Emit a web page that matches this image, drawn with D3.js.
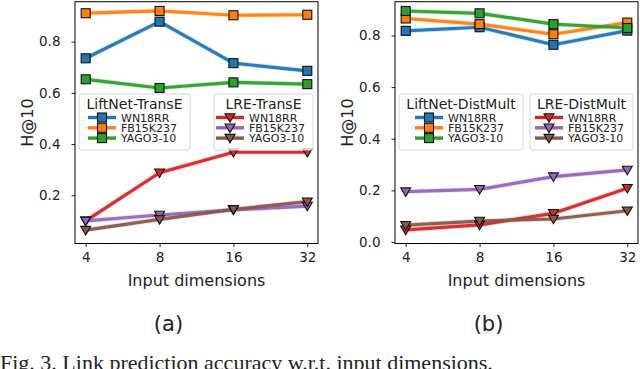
<!DOCTYPE html>
<html><head><meta charset="utf-8">
<script src="https://cdn.jsdelivr.net/npm/d3@7/dist/d3.min.js"></script>
<style>body{margin:0;background:#fff;}svg{display:block;}</style>
</head><body>
<script>
const dims = ["4", "8", "16", "32"];
const datasets = ["WN18RR", "FB15K237", "YAGO3-10"];
// Panel (a): TransE
const liftTransE = {
  "WN18RR":   [0.735, 0.878, 0.716, 0.686],
  "FB15K237": [0.911, 0.920, 0.903, 0.905],
  "YAGO3-10": [0.653, 0.619, 0.641, 0.634]
};
const lreTransE = {
  "WN18RR":   [0.100, 0.288, 0.368, 0.368],
  "FB15K237": [0.100, 0.123, 0.143, 0.158],
  "YAGO3-10": [0.064, 0.106, 0.145, 0.175]
};
// Panel (b): DistMult
const liftDistMult = {
  "WN18RR":   [0.818, 0.832, 0.764, 0.819],
  "FB15K237": [0.866, 0.844, 0.805, 0.850],
  "YAGO3-10": [0.895, 0.886, 0.844, 0.829]
};
const lreDistMult = {
  "WN18RR":   [0.047, 0.066, 0.111, 0.208],
  "FB15K237": [0.195, 0.204, 0.253, 0.279],
  "YAGO3-10": [0.065, 0.081, 0.089, 0.121]
};
const ticksA = [0.2, 0.4, 0.6, 0.8];
const ticksB = [0.0, 0.2, 0.4, 0.6, 0.8];
const liftColors = ["#1f77b4", "#ff7f0e", "#2ca02c"];
const lreColors = ["#d62728", "#9467bd", "#8c564b"];

const W = 640, H = 369;
const svg = d3.select("body").append("svg").attr("width", W).attr("height", H)
  .style("font-family", "'DejaVu Sans', sans-serif");

const plotTop = 1.7, plotBottom = 243.5;

function panel(cfg) {
  const g = svg.append("g");
  const x = d3.scalePoint().domain(dims).range([cfg.x0 + 10.7, cfg.x1 - 10.7]);
  const y = d3.scaleLinear().domain(cfg.ydom).range([plotBottom, plotTop]);

  const lineGen = d3.line().x((d, i) => x(dims[i])).y(d => y(d));
  const series = [];
  datasets.forEach((ds, i) => series.push({vals: cfg.lift[ds], color: liftColors[i], marker: "sq"}));
  datasets.forEach((ds, i) => series.push({vals: cfg.lre[ds], color: lreColors[i], marker: "tri"}));

  const plot = g.append("g");
  series.forEach(s => {
    plot.append("path").attr("d", lineGen(s.vals)).attr("fill", "none")
      .attr("stroke", s.color).attr("stroke-width", 5).attr("stroke-opacity", 0.18)
      .attr("stroke-linejoin", "round");
    plot.append("path").attr("d", lineGen(s.vals)).attr("fill", "none")
      .attr("stroke", s.color).attr("stroke-width", 3.2).attr("stroke-opacity", 0.95)
      .attr("stroke-linejoin", "round");
  });
  series.forEach(s => {
    s.vals.forEach((v, i) => drawMarker(plot, s.marker, x(dims[i]), y(v), s.color));
  });

  // axes
  const yAxis = d3.axisLeft(y).tickValues(cfg.yticks).tickFormat(d3.format(".1f")).tickSize(3.5).tickPadding(11);
  const xAxis = d3.axisBottom(x).tickSize(3.5).tickPadding(5);
  const ya = g.append("g").attr("transform", `translate(${cfg.x0},0)`).call(yAxis);
  const xa = g.append("g").attr("transform", `translate(0,${plotBottom})`).call(xAxis);
  [ya, xa].forEach(a => {
    a.select(".domain").remove();
    a.selectAll("text").attr("font-size", 13.5).attr("fill", "#222").attr("font-family", "'DejaVu Sans', sans-serif");
    a.selectAll("line").attr("stroke", "#000").attr("stroke-width", 0.9);
  });
  g.append("rect").attr("x", cfg.x0).attr("y", plotTop).attr("width", cfg.x1 - cfg.x0)
    .attr("height", plotBottom - plotTop).attr("fill", "none").attr("stroke", "#000").attr("stroke-width", 1);

  g.append("text").attr("transform", `translate(${cfg.x0 - 42},${(plotTop + plotBottom) / 2}) rotate(-90)`)
    .attr("text-anchor", "middle").attr("font-size", 16).attr("fill", "#222").text("H@10");
  g.append("text").attr("x", (cfg.x0 + cfg.x1) / 2).attr("y", 286)
    .attr("text-anchor", "middle").attr("font-size", 16).attr("fill", "#222").text("Input dimensions");
  g.append("text").attr("x", (cfg.x0 + cfg.x1) / 2 - 28).attr("y", 331)
    .attr("text-anchor", "middle").attr("font-size", 21).attr("fill", "#222").text(cfg.sub);

  legend(g, cfg.leg1, cfg.title1, liftColors, "sq");
  legend(g, cfg.leg2, cfg.title2, lreColors, "tri");
}

function drawMarker(p, type, cx, cy, color) {
  if (type === "sq") {
    p.append("rect").attr("x", cx - 4.5).attr("y", cy - 4.5).attr("width", 9).attr("height", 9)
      .attr("fill", color).attr("stroke", "#111").attr("stroke-width", 1.1);
  } else {
    const s = 5;
    p.append("path").attr("d", `M${cx - s},${cy - s * 0.75}L${cx + s},${cy - s * 0.75}L${cx},${cy + s * 0.95}Z`)
      .attr("fill", color).attr("stroke", "#111").attr("stroke-width", 1.1).attr("stroke-linejoin", "miter");
  }
}

function legend(g, L, title, colors, marker) {
  const lg = g.append("g");
  lg.append("rect").attr("x", L.x).attr("y", 94).attr("width", L.w).attr("height", 56)
    .attr("rx", 2.5).attr("fill", "#fff").attr("fill-opacity", 0.8).attr("stroke", "#d0d0d0").attr("stroke-width", 0.9);
  lg.append("text").attr("x", L.x + L.w / 2).attr("y", 109).attr("text-anchor", "middle")
    .attr("font-size", 14).attr("fill", "#222").text(title);
  datasets.forEach((ds, i) => {
    const yy = 117.5 + i * 10.3;
    lg.append("line").attr("x1", L.hx).attr("x2", L.hx + 28).attr("y1", yy).attr("y2", yy)
      .attr("stroke", colors[i]).attr("stroke-width", 3.4);
    drawMarker(lg, marker, L.hx + 14, yy, colors[i]);
    lg.append("text").attr("x", L.hx + 33).attr("y", yy + 4).attr("font-size", 11)
      .attr("fill", "#222").text(ds);
  });
}

panel({x0: 75, x1: 318, ydom: [0.0117, 0.956], yticks: ticksA, lift: liftTransE, lre: lreTransE,
  sub: "(a)", title1: "LiftNet-TransE", title2: "LRE-TransE",
  leg1: {x: 79, w: 111, hx: 88}, leg2: {x: 214, w: 99, hx: 216}});
panel({x0: 395, x1: 638, ydom: [-0.006, 0.931], yticks: ticksB, lift: liftDistMult, lre: lreDistMult,
  sub: "(b)", title1: "LiftNet-DistMult", title2: "LRE-DistMult",
  leg1: {x: 399, w: 124, hx: 415}, leg2: {x: 530, w: 103, hx: 535}});

svg.append("text").attr("x", 0).attr("y", 370).attr("font-family", "'Liberation Serif', 'Times New Roman', serif")
  .attr("font-size", 22).attr("fill", "#222").text("Fig. 3.  Link prediction accuracy w.r.t. input dimensions.");
</script>
</body></html>
